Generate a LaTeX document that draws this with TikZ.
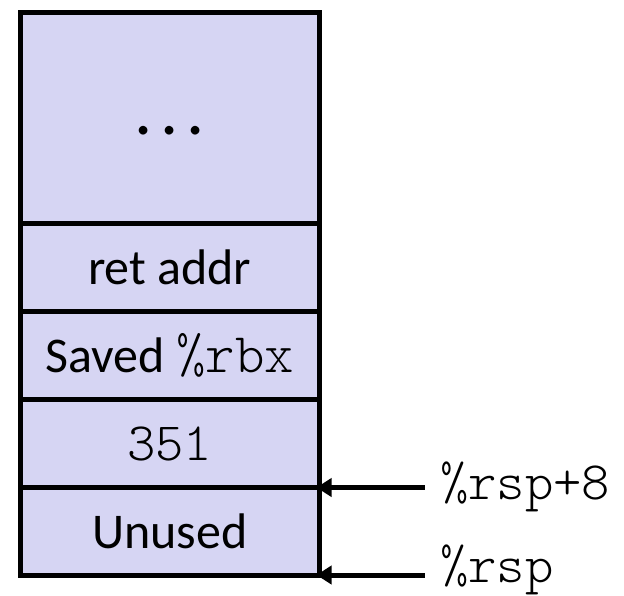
\documentclass[tikz,border=0pt]{standalone}
\usepackage{fontspec}
\setmainfont{Carlito}
\newfontfamily\monof{Latin Modern Mono Light}
\usetikzlibrary{arrows.meta}
\definecolor{cellfill}{HTML}{D6D5F3}
\begin{document}
\begin{tikzpicture}[x=1pt,y=1pt,
  cell/.style={draw=black,fill=cellfill,line width=5pt,minimum width=298.5pt,inner sep=0pt,outer sep=0pt,font=\fontsize{50}{60}\selectfont},
  ptr/.style={line width=5pt,{Triangle[length=15pt,width=18pt]}-},
  lbl/.style={anchor=base west,inner sep=0pt,font=\fontsize{54}{64}\selectfont\monof}]
\useasboundingbox (0,0) rectangle (624,-595);
\node[cell,minimum height=210.5pt] (top) at (169.75,-117.75) {\raisebox{-17pt}[0pt][0pt]{\fontsize{72}{80}\selectfont\makebox[26pt]{.}\makebox[26pt]{.}\makebox[26pt]{.}}};
\node[cell,minimum height=88.5pt] (ret) at (169.75,-267.25) {ret addr};
\node[cell,minimum height=88pt] (saved) at (169.75,-355.5) {Saved {\monof\fontsize{56}{64}\selectfont \%rbx}};
\node[cell,minimum height=88pt] (val) at (169.75,-443.5) {\monof\fontsize{54}{64}\selectfont 351};
\node[cell,minimum height=87.5pt] (unused) at (169.75,-531.25) {Unused};
\node[lbl] (l1) at (440,-499) {\%rsp+8};
\node[lbl] (l2) at (440,-582) {\%rsp};
\coordinate (a1) at (425,-487.5);
\coordinate (a2) at (425,-575);
\draw[ptr,shorten <=-2.5pt] (unused.north east) -- (a1);
\draw[ptr,shorten <=-2.5pt] (unused.south east) -- (a2);
\end{tikzpicture}
\end{document}
